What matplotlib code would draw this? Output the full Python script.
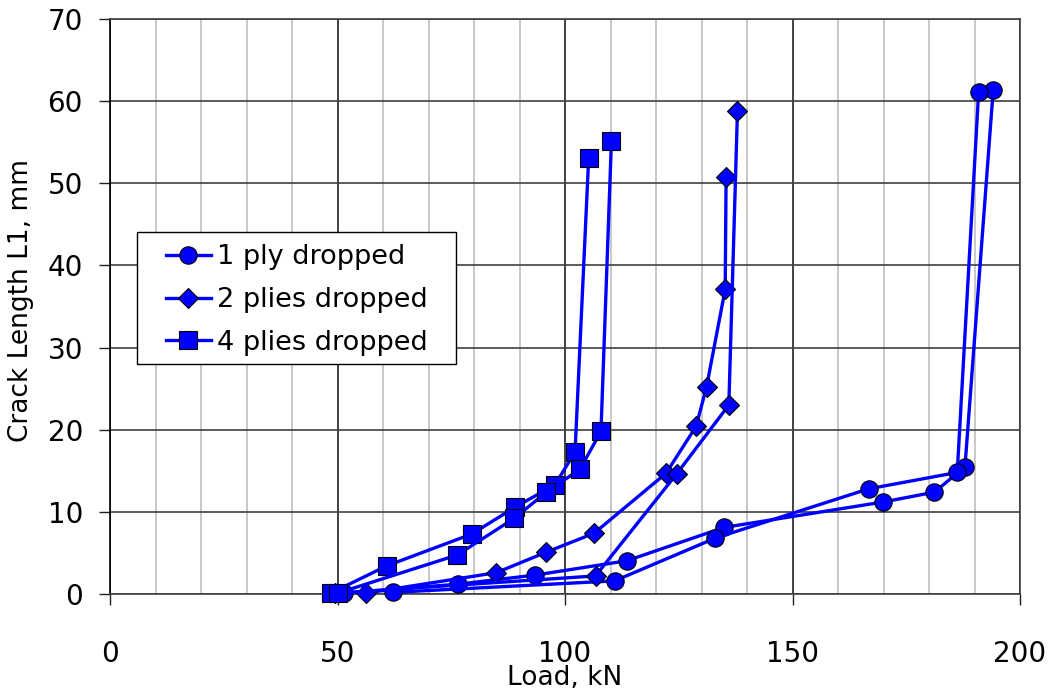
import matplotlib
matplotlib.use("Agg")
import matplotlib.pyplot as plt
from matplotlib.patches import Rectangle
from matplotlib.ticker import MultipleLocator

# ----- Data (load in kN, crack length in mm) -----
# each configuration was tested twice, so two curves per legend entry
ply1_a_load = [51.5, 76.5, 93.4, 113.6, 134.9, 169.9, 181.2, 187.9, 194.1]
ply1_a_crack = [0.1, 1.2, 2.3, 4.05, 8.1, 11.2, 12.4, 15.5, 61.3]
ply1_b_load = [62.1, 110.9, 133.0, 166.7, 186.2, 190.9]
ply1_b_crack = [0.2, 1.6, 6.8, 12.8, 14.8, 61.1]

ply2_a_load = [56.2, 84.9, 95.9, 106.4, 122.2, 128.8, 131.1, 135.2, 135.4]
ply2_a_crack = [0.1, 2.6, 5.1, 7.4, 14.7, 20.4, 25.2, 37.1, 50.8]
ply2_b_load = [49.5, 106.7, 124.5, 136.0, 137.9]
ply2_b_crack = [0.1, 2.2, 14.6, 23.0, 58.8]

ply4_a_load = [48.5, 60.9, 79.5, 89.1, 97.8, 102.2, 105.2]
ply4_a_crack = [0.1, 3.45, 7.3, 10.6, 13.3, 17.3, 53.1]
ply4_b_load = [50.0, 76.3, 88.8, 95.9, 103.3, 107.9, 110.2]
ply4_b_crack = [0.1, 4.75, 9.2, 12.4, 15.2, 19.8, 55.2]

series_labels = ["1 ply dropped", "2 plies dropped", "4 plies dropped"]

BLUE = "#0000FF"


def main():
    plt.rcParams["font.family"] = ["DejaVu Sans"]

    fig = plt.figure(figsize=(10.52, 6.95), dpi=100)
    ax = fig.add_axes([0.1046, 0.1453, 0.865, 0.8274])

    style = dict(color=BLUE, lw=2.4, markeredgecolor="black",
                 markeredgewidth=0.8, clip_on=False, zorder=3)

    # circles
    ax.plot(ply1_a_load, ply1_a_crack, marker="o", ms=12.5, label=series_labels[0], **style)
    ax.plot(ply1_b_load, ply1_b_crack, marker="o", ms=12.5, **style)
    # diamonds
    ax.plot(ply2_a_load, ply2_a_crack, marker="D", ms=10.5, label=series_labels[1], **style)
    ax.plot(ply2_b_load, ply2_b_crack, marker="D", ms=10.5, **style)
    # squares
    ax.plot(ply4_a_load, ply4_a_crack, marker="s", ms=13, label=series_labels[2], **style)
    ax.plot(ply4_b_load, ply4_b_crack, marker="s", ms=13, **style)

    ax.set_xlim(0, 200)
    ax.set_ylim(0, 70)
    ax.xaxis.set_major_locator(MultipleLocator(50))
    ax.xaxis.set_minor_locator(MultipleLocator(10))
    ax.yaxis.set_major_locator(MultipleLocator(10))

    ax.grid(True, which="minor", axis="x", color="#c8c8c8", lw=1.4, zorder=0)
    ax.grid(True, which="major", axis="x", color="#202020", lw=1.2, zorder=1)
    ax.grid(True, which="major", axis="y", color="#404040", lw=1.2, zorder=1)
    ax.set_axisbelow(True)

    for side in ["top", "right", "bottom"]:
        ax.spines[side].set_color("#404040")
        ax.spines[side].set_linewidth(1.2)
    ax.spines["left"].set_color("black")
    ax.spines["left"].set_linewidth(1.2)

    ax.tick_params(axis="both", which="major", direction="out", length=8,
                   width=1.0, labelsize=20, color="#202020")
    ax.tick_params(axis="x", which="minor", length=0)
    ax.tick_params(axis="x", which="major", pad=25)
    ax.tick_params(axis="y", which="major", pad=11.5)

    ax.set_xlabel("Load, kN", fontsize=19)
    ax.set_ylabel("Crack Length L1, mm", fontsize=19)
    ax.xaxis.set_label_coords(0.5, -0.124)
    ax.yaxis.set_label_coords(-0.084, 0.51)

    # legend box is drawn separately so its padding can match the original
    ax.add_patch(Rectangle((0.0297, 0.40), 0.3505, 0.2296, transform=ax.transAxes,
                           facecolor="white", edgecolor="black", lw=1.0,
                           zorder=4, clip_on=False))
    leg = ax.legend(loc="center left", bbox_to_anchor=(0.0615, 0.5113),
                    fontsize=19.5, frameon=False, borderaxespad=0, borderpad=0,
                    handlelength=1.65, handletextpad=0.25, labelspacing=0.62)
    leg.set_zorder(5)

    plt.savefig("out.png", dpi=100)


if __name__ == "__main__":
    main()
